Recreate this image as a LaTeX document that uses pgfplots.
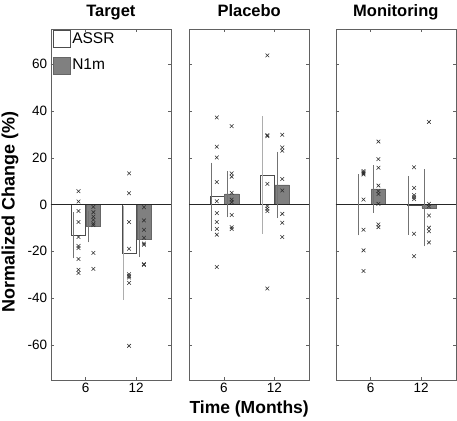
\documentclass[border=0pt]{standalone}
\usepackage{pgfplots}
\pgfplotsset{compat=1.18}
\usepackage{fontspec}
\setmainfont{Liberation Sans}
\definecolor{framec}{gray}{0.38}
\definecolor{nfill}{gray}{0.5}
\definecolor{errc}{gray}{0.45}
\definecolor{errl}{gray}{0.68}
\definecolor{crossc}{gray}{0.18}
\pgfplotsset{
  panel/.style={
    scale only axis, width=120.3pt, height=351pt,
    xmin=0.31, xmax=2.69, ymin=-75, ymax=75,
    xtick={1,2}, xticklabels={6,12},
    ytick={-60,-40,...,60},
    tick align=inside, major tick length=3pt,
    axis line style={framec},
    tick style={framec},
    /pgf/number format/assume math mode=true,
    tick label style={font=\fontsize{13.5}{13.5}\selectfont},
    every axis title shift=0pt,
    title style={font=\bfseries\fontsize{16.5}{16.5}\selectfont, at={(0.5,1)}, anchor=base, yshift=13pt},
  },
  errs/.style={draw=none, mark=none, forget plot,
    error bars/.cd, y dir=both, y explicit,
    error bar style={draw=#1, solid, line width=0.8pt},
    error mark options={draw=#1, solid, mark size=1.5pt, line width=0.7pt}},
  crosses/.style={only marks, mark=x, mark size=2.6pt, color=crossc, mark options={line width=0.55pt}, forget plot},
  abar/.style={ybar, bar width=0.28, bar shift=-0.14, fill=white, draw=black!70,
    legend image code/.code={\draw[##1,/tikz/.cd] (0pt,-8.5pt) rectangle (17pt,8.5pt);}},
  nbar/.style={ybar, bar width=0.28, bar shift=0.155, fill=nfill, draw=black!60,
    legend image code/.code={\draw[##1,/tikz/.cd] (0pt,-8.5pt) rectangle (17pt,8.5pt);}},
  zline/.style={black!85, forget plot},
}
\begin{document}
\begin{tikzpicture}
\path[use as bounding box] (0,0) rectangle (457pt,420pt);
% ---------------- Target
\begin{axis}[panel, at={(50.7pt,40pt)}, anchor=south west,
  title={Target},
  ylabel={Normalized Change (\%)},
  ylabel style={font=\bfseries\fontsize{18}{18}\selectfont, at={(axis description cs:-0.338,0.48)}, anchor=center},
  legend style={at={(axis description cs:0,1)}, anchor=north west, draw=none, fill=none,
    font=\fontsize{15.5}{15.5}\selectfont, row sep=9pt, inner xsep=2pt, inner ysep=1pt},
  legend cell align=left]
\addplot[abar] coordinates {(1,-13.2) (2,-20.6)};
\addlegendentry{ASSR}
\addplot[nbar] coordinates {(1,-9.4) (2,-14.9)};
\addlegendentry{N1m}
\addplot[zline] coordinates {(0.31,0) (2.69,0)};
\addplot[errs=errc] coordinates {(0.755,-13.2) +- (0,9.2)};
\addplot[errs=errl] coordinates {(1.755,-20.6) +- (0,19.5)};
\addplot[errs=errc] coordinates {(1.06,-9.4) +- (0,6.1) (2.06,-14.9) +- (0,7.0)};
\addplot[crosses] coordinates {(0.86,5.7) (0.86,1.3) (0.86,-2.8) (0.86,-7.5) (0.86,-13.9) (0.86,-17.7) (0.86,-18.6) (0.86,-23.3) (0.86,-27.9) (0.86,-29.3)};
\addplot[crosses] coordinates {(1.86,13.3) (1.86,4.8) (1.86,-7.5) (1.86,-18.9) (1.86,-29.8) (1.86,-30.6) (1.86,-31.2) (1.86,-33.5) (1.86,-60.4)};
\addplot[crosses] coordinates {(1.155,-1.0) (1.155,-3.3) (1.155,-5.2) (1.155,-6.6) (1.155,-8.2) (1.155,-8.8) (1.155,-20.7) (1.155,-27.5)};
\addplot[crosses] coordinates {(2.155,-1.2) (2.155,-6.8) (2.155,-10.8) (2.155,-14.2) (2.155,-16.7) (2.155,-17.2) (2.155,-25.5) (2.155,-25.8)};
\end{axis}
% ---------------- Placebo
\begin{axis}[panel, at={(189pt,40pt)}, anchor=south west,
  title={Placebo}, yticklabel=\empty,
  xlabel={Time (Months)},
  xlabel style={font=\bfseries\fontsize{17.5}{17.5}\selectfont, at={(axis description cs:0.5,-0.095)}, anchor=base}]
\addplot[abar] coordinates {(1,3.4) (2,12.6)};
\addplot[nbar] coordinates {(1,4.5) (2,8.4)};
\addplot[zline] coordinates {(0.31,0) (2.69,0)};
\addplot[errs=errc] coordinates {(0.755,3.3) +- (0,14.0)};
\addplot[errs=errl] coordinates {(1.755,12.6) +- (0,24.4)};
\addplot[errs=errc] coordinates {(1.06,4.5) +- (0,9.2) (2.06,8.4) +- (0,13.6)};
\addplot[crosses] coordinates {(0.86,37.2) (0.86,24.7) (0.86,20.1) (0.86,9.6) (0.86,1.4) (0.86,-3.7) (0.86,-7.5) (0.86,-10.4) (0.86,-12.9) (0.86,-26.7)};
\addplot[crosses] coordinates {(1.86,63.7) (1.86,29.6) (1.86,29.2) (1.86,8.8) (1.86,-0.7) (1.86,-1.8) (1.86,-2.8) (1.86,-35.9)};
\addplot[crosses] coordinates {(1.155,33.5) (1.155,13.3) (1.155,11.9) (1.155,5.0) (1.155,2.1) (1.155,1.0) (1.155,-4.5) (1.155,-9.7) (1.155,-10.5)};
\addplot[crosses] coordinates {(2.155,29.8) (2.155,24.4) (2.155,23.0) (2.155,10.9) (2.155,6.0) (2.155,-4.0) (2.155,-7.8) (2.155,-13.9)};
\end{axis}
% ---------------- Monitoring
\begin{axis}[panel, at={(335.7pt,40pt)}, anchor=south west,
  title={Monitoring}, yticklabel=\empty]
\addplot[abar] coordinates {(1,0.3) (2,-0.3)};
\addplot[nbar] coordinates {(1,6.7) (2,-1.4)};
\addplot[zline] coordinates {(0.31,0) (2.69,0)};
\addplot[errs=errc] coordinates {(0.755,-0.2) +- (0,12.4) (1.755,-0.3) +- (0,11.9)};
\addplot[errs=errc] coordinates {(1.06,6.7) +- (0,9.5) (2.06,-1.4) +- (0,15.8)};
\addplot[crosses] coordinates {(0.86,14.3) (0.86,13.8) (0.86,13.3) (0.86,12.8) (0.86,2.1) (0.86,-10.8) (0.86,-19.6) (0.86,-28.4)};
\addplot[crosses] coordinates {(1.86,15.9) (1.86,7.1) (1.86,4.0) (1.86,3.1) (1.86,2.3) (1.86,-12.5) (1.86,-22.1)};
\addplot[crosses] coordinates {(1.155,26.9) (1.155,19.4) (1.155,15.7) (1.155,8.1) (1.155,5.7) (1.155,4.5) (1.155,0.3) (1.155,-8.5) (1.155,-9.7)};
\addplot[crosses] coordinates {(2.155,35.3) (2.155,0.3) (2.155,-0.8) (2.155,-4.7) (2.155,-9.9) (2.155,-11.4) (2.155,-16.2)};
\end{axis}
\end{tikzpicture}
\end{document}
